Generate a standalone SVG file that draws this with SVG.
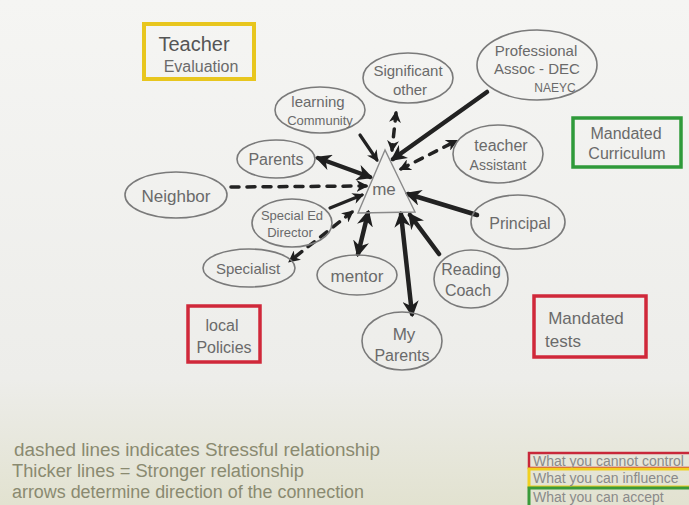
<svg xmlns="http://www.w3.org/2000/svg" width="689" height="505" viewBox="0 0 689 505">
<defs>
<linearGradient id="paper" x1="0" y1="0" x2="0" y2="1">
<stop offset="0" stop-color="#f5f5f3"/>
<stop offset="0.75" stop-color="#ededea"/>
<stop offset="1" stop-color="#e2e2d0"/>
</linearGradient>
<marker id="ah" viewBox="0 0 10 10" refX="8" refY="5" markerWidth="3.6" markerHeight="3.6" orient="auto-start-reverse" markerUnits="strokeWidth">
<path d="M0,0 L10,5 L0,10 L3,5 Z" fill="#1e1e1e"/>
</marker>
<marker id="ahd" viewBox="0 0 10 10" refX="8" refY="5" markerWidth="3.4" markerHeight="3.4" orient="auto-start-reverse" markerUnits="strokeWidth">
<path d="M0,0 L10,5 L0,10 L3,5 Z" fill="#1e1e1e"/>
</marker>
</defs>
<style>
.node ellipse{fill:none;stroke:#7a7a7a;stroke-width:1.6}
.t{font-family:"Liberation Sans","DejaVu Sans",sans-serif;font-size:15px;fill:#6a6a6a;text-anchor:middle}
.s12{font-size:12px}
.s13{font-size:13px}
.s14{font-size:14px}
.s16{font-size:16px}
.s17{font-size:17px}
.s20{font-size:20px;fill:#555}
.c{stroke:#222;fill:none;stroke-linecap:round}
.solid{stroke-width:4.5;marker-end:url(#ah)}
.med{stroke-width:3.2;marker-end:url(#ah)}
.dash{stroke-width:3.5;stroke-dasharray:8 8;marker-end:url(#ahd)}
.both{marker-start:url(#ah)}
.bothd{marker-start:url(#ahd)}
.leg{font-family:"Liberation Sans","DejaVu Sans",sans-serif;font-size:18px;fill:#8a8a70}
.legbox{font-family:"Liberation Sans","DejaVu Sans",sans-serif;font-size:14px;fill:#8a8a8a}
</style>
<rect width="689" height="505" fill="url(#paper)"/>

<g id="connectors">
<line class="c dash bothd" x1="396" y1="113" x2="392" y2="150"/>
<line class="c solid" x1="487" y1="92" x2="393" y2="159"/>
<line class="c dash bothd" x1="401" y1="169" x2="456" y2="141"/>
<line class="c med" x1="360" y1="135" x2="377" y2="160"/>
<line class="c solid both" x1="318" y1="158" x2="370" y2="177"/>
<line class="c dash" x1="231" y1="187" x2="366" y2="186"/>
<line class="c med" x1="330" y1="208" x2="362" y2="195"/>
<line class="c dash bothd" x1="352" y1="212" x2="290" y2="261"/>
<line class="c solid both" x1="368" y1="213" x2="358" y2="254"/>
<line class="c solid" x1="439" y1="254" x2="410" y2="215"/>
<line class="c solid" x1="477" y1="215" x2="408" y2="194"/>
<line class="c solid both" x1="401" y1="214" x2="412" y2="314"/>
</g>

<g id="me">
<path d="M385,150 L358,213 L415,212 Z" fill="none" stroke="#8a8a8a" stroke-width="1.4"/>
<text class="t s17" x="384" y="195">me</text>
</g>

<g id="teacher-evaluation">
<rect x="144" y="24" width="110" height="55" fill="none" stroke="#e8c61e" stroke-width="4"/>
<text class="t s20" x="194" y="51">Teacher</text>
<text class="t s16" x="201" y="72">Evaluation</text>
</g>

<g id="significant-other" class="node">
<ellipse cx="408" cy="78" rx="45" ry="25"/>
<text class="t" x="408" y="76">Significant</text>
<text class="t" x="410" y="95">other</text>
</g>

<g id="professional" class="node">
<ellipse cx="537" cy="65" rx="60" ry="35"/>
<text class="t" x="536" y="56">Professional</text>
<text class="t" x="537" y="74">Assoc - DEC</text>
<text class="t s12" x="555" y="92">NAEYC</text>
</g>

<g id="learning-community" class="node">
<ellipse cx="320" cy="110" rx="45" ry="23"/>
<text class="t" x="318" y="107">learning</text>
<text class="t s13" x="320" y="125">Community</text>
</g>

<g id="parents" class="node">
<ellipse cx="276" cy="159" rx="39" ry="19"/>
<text class="t s16" x="276" y="165">Parents</text>
</g>

<g id="teacher-assistant" class="node">
<ellipse cx="498" cy="154" rx="45" ry="29"/>
<text class="t s16" x="501" y="151">teacher</text>
<text class="t s14" x="498" y="170">Assistant</text>
</g>

<g id="mandated-curriculum">
<rect x="573" y="118" width="108" height="49" fill="none" stroke="#2f9a3a" stroke-width="3.5"/>
<text class="t s16" x="626" y="139">Mandated</text>
<text class="t s16" x="627" y="159">Curriculum</text>
</g>

<g id="neighbor" class="node">
<ellipse cx="176" cy="195" rx="51" ry="23"/>
<text class="t s17" x="176" y="202">Neighbor</text>
</g>

<g id="special-ed-director" class="node">
<ellipse cx="292" cy="223" rx="40" ry="24"/>
<text class="t s13" x="292" y="220">Special Ed</text>
<text class="t s13" x="290" y="237">Director</text>
</g>

<g id="specialist" class="node">
<ellipse cx="249" cy="268" rx="46" ry="19"/>
<text class="t" x="248" y="274">Specialist</text>
</g>

<g id="mentor" class="node">
<ellipse cx="357" cy="275" rx="40" ry="20"/>
<text class="t s17" x="357" y="282">mentor</text>
</g>

<g id="reading-coach" class="node">
<ellipse cx="471" cy="279" rx="37" ry="29"/>
<text class="t s16" x="471" y="275">Reading</text>
<text class="t s16" x="468" y="296">Coach</text>
</g>

<g id="principal" class="node">
<ellipse cx="518" cy="222" rx="47" ry="27"/>
<text class="t s16" x="520" y="229">Principal</text>
</g>

<g id="local-policies">
<rect x="188" y="306" width="72" height="56" fill="none" stroke="#d0283a" stroke-width="3.5"/>
<text class="t s16" x="222" y="331">local</text>
<text class="t s16" x="224" y="353">Policies</text>
</g>

<g id="my-parents" class="node">
<ellipse cx="402" cy="341" rx="40" ry="29"/>
<text class="t s17" x="404" y="340">My</text>
<text class="t s16" x="402" y="361">Parents</text>
</g>

<g id="mandated-tests">
<rect x="534" y="296" width="112" height="61" fill="none" stroke="#d0283a" stroke-width="3.5"/>
<text class="t s17" x="586" y="324">Mandated</text>
<text class="t s17" x="563" y="347">tests</text>
</g>

<g id="legend">
<text class="leg" x="14" y="456" textLength="366" lengthAdjust="spacingAndGlyphs">dashed lines indicates  Stressful relationship</text>
<text class="leg" x="12" y="477" textLength="292" lengthAdjust="spacingAndGlyphs">Thicker lines = Stronger relationship</text>
<text class="leg" x="12" y="498" textLength="352" lengthAdjust="spacingAndGlyphs">arrows determine direction of the connection</text>
</g>

<g id="legend-boxes">
<rect x="529" y="453" width="165" height="15" fill="none" stroke="#c8283a" stroke-width="2.5"/>
<text class="legbox" x="533" y="466">What you cannot control</text>
<rect x="529" y="469" width="165" height="18" fill="none" stroke="#f0d020" stroke-width="3"/>
<text class="legbox" x="533" y="483">What you can influence</text>
<rect x="529" y="488" width="165" height="19" fill="none" stroke="#3a9a3a" stroke-width="3"/>
<text class="legbox" x="533" y="502">What you can accept</text>
</g>
</svg>
